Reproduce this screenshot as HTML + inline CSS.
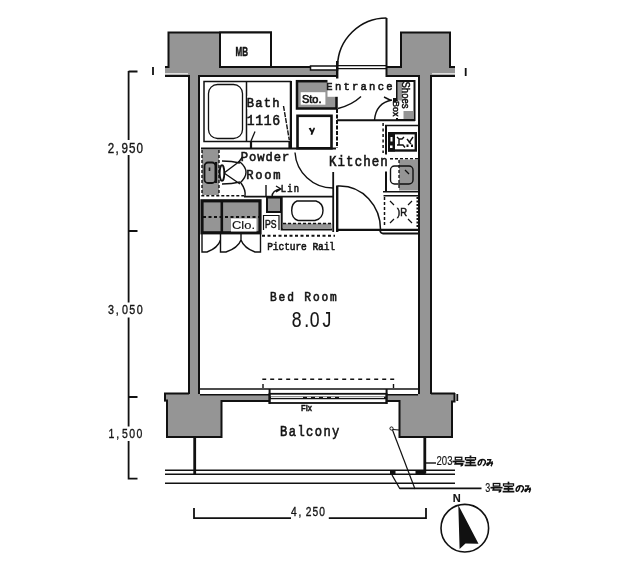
<!DOCTYPE html>
<html><head><meta charset="utf-8">
<style>
html,body{margin:0;padding:0;background:#fff;}
svg{display:block;will-change:transform;}
text{font-family:"Liberation Mono",monospace;fill:#141414;stroke:#141414;stroke-width:0.6;}
.s{stroke-width:0.15;}
.s{font-family:"Liberation Sans",sans-serif;}
</style></head><body>
<svg width="640" height="569" viewBox="0 0 640 569">
<rect x="0" y="0" width="640" height="569" fill="#fff"/>
<g fill="#959595" stroke="none">
  <!-- top-left block -->
  <rect x="168" y="32" width="104" height="44"/>
  <!-- top-right block -->
  <rect x="400" y="32" width="50" height="44"/>
  <!-- top band -->
  <rect x="165" y="67" width="173" height="8.5"/>
  <rect x="386" y="67" width="69" height="8.5"/>
  <!-- columns -->
  <rect x="188" y="75" width="12" height="320"/>
  <rect x="419" y="75" width="12" height="320"/>
  <!-- bottom band -->
  <rect x="164" y="394" width="291" height="7.5"/>
  <!-- bottom blocks -->
  <rect x="166" y="400" width="55" height="37"/>
  <rect x="399" y="400" width="53" height="37"/>
</g>
<g stroke="#111" fill="none" stroke-width="2">
  <!-- top-left block outline -->
  <path d="M165,67 H168.5 V32.5 H272"/>
  <rect x="220" y="32.5" width="51" height="34.5" fill="#fff"/>
  <path d="M272,67 H337"/>
  <!-- top-right block -->
  <path d="M386,67 H401 V32.5 H450 V67 H455"/>
  <!-- band bottom lines -->
  <path d="M165,76 H189 V394 M199,394 V76 H337"/>
  <path d="M386,76 H419 V394 M431,394 V76 H455"/>
  <!-- bottom band/ blocks -->
  <path d="M164,393.5 H189 M431,393.5 H455"/>
  <path d="M165,393 V400.5 H167 V437 H221.5 V401 H269"/>
  <path d="M387,401 H399.5 V437 H452 V401.5 H454.5 V393"/>
</g>
<!-- white gaps outside -->
<g stroke="#fff" stroke-width="1">
  <path d="M165,73.8 H188 M432,73.8 H455"/>
</g>
<!-- MB -->
<text x="235.5" y="55.5" font-size="12" font-weight="bold" textLength="12.5" lengthAdjust="spacingAndGlyphs" class="s" style="stroke-width:0.5">MB</text>

<!-- entrance threshold -->
<g stroke="#111" fill="none">
  <path d="M310.5,66 H337.5 V70 H310.5 Z" fill="#fff" stroke-width="1.5"/>
  <path d="M338,65.6 H386 M338,68.6 H386" stroke-width="1.3"/>
  <path d="M337.2,61 V78.5" stroke-width="2.4"/>
  <path d="M386.5,18 V77" stroke-width="2"/>
  <path d="M337.5,66 A49,49 0 0 1 386.5,18" stroke-width="1.6"/>
</g>

<!-- Bath unit -->
<g stroke="#111" fill="none" stroke-width="1.5">
  <rect x="204" y="81.5" width="86.5" height="60"/>
  <path d="M246.5,81.5 V141.5"/>
  <rect x="208.5" y="84.5" width="34" height="54" rx="9" ry="9" stroke-width="1.3"/>
  <path d="M291,81 V148.5" stroke-width="2"/>
  <path d="M201,148.5 H336" stroke-width="2.2"/>
  <path d="M251,141.5 V148.5 M289.5,141.5 V148.5" stroke-width="2.2"/>
  <path d="M283.5,106 L289.3,140" stroke-width="1.4" stroke-dasharray="5,1.2"/>
  <path d="M255,131.5 L251,141" stroke-width="1.3"/>
</g>
<rect x="247.3" y="96" width="34" height="13" fill="#fff"/>
<text transform="translate(250.30,107.40) scale(0.900,1)" x="-4.05 5.43 14.91 24.39" y="0" font-size="13.51">Bath</text>
<text transform="translate(250.70,124.90) scale(0.900,1)" x="-4.37 5.07 14.52 23.96" y="0" font-size="14.57">1116</text>

<!-- Sto box -->
<rect x="297" y="81.2" width="39.5" height="27.3" fill="#959595" stroke="#111" stroke-width="2.5"/>
<rect x="300.7" y="92.2" width="24.7" height="12.5" fill="#fff"/>
<text x="302" y="102.6" font-size="10" textLength="19.5" lengthAdjust="spacingAndGlyphs" class="s" style="stroke-width:0.6">Sto.</text>

<!-- Toilet -->
<rect x="297.5" y="115.8" width="34" height="32.5" fill="#fff" stroke="#111" stroke-width="2.6"/>
<path d="M308.6,128.2 L310.8,127.8 L312,130.5 L314,127.3 L315,128.6 L312.2,135 L310.6,134.6 L311.2,132.5 Z" fill="#111"/>
<path d="M337,109 V148" stroke="#111" stroke-width="2" stroke-dasharray="4,1.5"/>

<!-- Entrance -->
<rect x="327.5" y="79" width="67" height="17.8" fill="#fff"/>
<text transform="translate(329.50,90.10) scale(0.900,1)" x="-3.51 5.99 15.49 24.99 34.49 43.99 53.49 62.99" y="0" font-size="11.68">Entrance</text>
<path d="M338,108.5 Q352,105 361,96.5" stroke="#111" stroke-width="1.4" fill="none"/>
<path d="M374.5,120 Q376,103 392,100 M384,97 L391,100.5" stroke="#111" stroke-width="1.4" fill="none"/>
<path d="M337,120.2 H415" stroke="#111" stroke-width="2"/>

<!-- Shoes box -->
<rect x="397" y="81" width="17.5" height="39" fill="#fff" stroke="#111" stroke-width="2"/>
<rect x="397.5" y="82" width="5" height="18.5" fill="#959595"/>
<rect x="403.5" y="111" width="10" height="8" fill="#959595"/>
<rect x="391.5" y="101" width="7" height="17" fill="#fff"/>
<text transform="translate(402.3,81.5) rotate(90)" font-size="10.5" textLength="27" lengthAdjust="spacingAndGlyphs" class="s" style="stroke-width:0.5" x="0" y="0">Shoes</text>
<text transform="translate(392.6,101) rotate(90)" font-size="9" textLength="15.5" lengthAdjust="spacingAndGlyphs" class="s" style="stroke-width:0.5" x="0" y="0">Box</text>
<rect x="393" y="98" width="3" height="4" fill="#111"/>
<!-- Kitchen counter -->
<g stroke="#111" fill="none">
  <path d="M385,125.5 H418" stroke-width="1.6"/>
  <path d="M386,125 V192" stroke-width="2"/>
  <path d="M383.1,123 V153" stroke-width="1.5" stroke-dasharray="3,2.5"/>
  <rect x="389.2" y="133.2" width="26.6" height="17.3" stroke-width="2.4" fill="#fff"/>
  <path d="M390,158.7 H418" stroke-width="1.4" stroke-dasharray="3,2"/>
</g>
<rect x="399" y="159.5" width="19" height="31" fill="#959595"/>
<g stroke="#111" fill="none">
  <rect x="390.5" y="166" width="22.5" height="18" rx="4" stroke-width="1.4"/>
  <path d="M399,160 V190" stroke-width="1.3" stroke-dasharray="3,2"/>
  <path d="M405,170 L409,174" stroke-width="1.2"/>
  <path d="M383,191.8 H418 M383.5,195.8 H418" stroke-width="1.6"/>
  <path d="M384.5,197 V227" stroke-width="1.5" stroke-dasharray="3,2"/>
  <path d="M417.5,197 V228" stroke-width="2" stroke-dasharray="2,1.5"/>
  <path d="M390,201 L394,205 M412,201 L408,205 M390,223 L394,219 M412,223 L408,219" stroke-width="1.2"/>
  <path d="M336,229.9 H418" stroke-width="2.2"/>
  <path d="M380,231 Q381,233.5 383,233.5 H418" stroke-width="1.8"/>
</g>
<text x="397" y="216" font-size="10" textLength="10" lengthAdjust="spacingAndGlyphs" class="s" style="stroke-width:0.5">)R</text>
<!-- IH symbols -->
<rect x="388" y="132.5" width="7" height="19" fill="#111"/>
<rect x="390.5" y="137" width="2" height="4.5" fill="#fff"/>
<rect x="390" y="145.5" width="2.5" height="2.5" fill="#fff"/>
<g stroke="#111" fill="none" stroke-width="1.4">
  <path d="M397,137 L399,139 H402 L404,137 M399,139 V145 M397,145 H403 L405,147.5"/>
  <path d="M407,139 L411,144 M413,137 L409,143"/>
</g>
<rect x="406.5" y="144.5" width="2" height="2.5" fill="#111"/>
<rect x="411" y="144.5" width="2" height="2.5" fill="#111"/>
<!-- Kitchen text -->
<rect x="329" y="154.5" width="59" height="17" fill="#fff"/>
<text transform="translate(332.75,166.00) scale(0.900,1)" x="-4.14 5.35 14.84 24.33 33.82 43.31 52.80" y="0" font-size="13.81">Kitchen</text>

<!-- doors & walls mid -->
<g stroke="#111" fill="none">
  <path d="M295,152.5 A38,38 0 0 0 333,188" stroke-width="1.4"/>
  <path d="M333.2,172 V232" stroke-width="1.8"/>
  <path d="M337.2,185.5 V232" stroke-width="2.4"/>
  <path d="M337.5,186 H340 A40.5,43.5 0 0 1 380.5,229.5" stroke-width="1.5"/>
</g>

<!-- Powder room -->
<rect x="202" y="150" width="17" height="45" fill="#959595"/>
<g stroke="#111" fill="none">
  <path d="M202,150 V195.7 H244 M219,150 V195" stroke-width="1.4" stroke-dasharray="3,2"/>
  <path d="M244,196.6 H333" stroke-width="1.6"/>
  <rect x="204.5" y="162.5" width="11" height="20.5" rx="3.5" stroke-width="1.8"/>
  <path d="M209.5,167.5 V171" stroke-width="1.6"/>
  <path d="M216,162 V183" stroke-width="2.2"/>
  <ellipse cx="222" cy="173" rx="2.3" ry="7.8" stroke-width="1.8"/>
  <path d="M222,161 Q232,161 240,163 M222,184 Q232,184 240,182 M224,173 L240,161 M224,173 L240,184" stroke-width="1.4"/>
  <path d="M240,162 Q252,172 240,183" stroke-width="1.4"/>
  <path d="M238,163 L242.5,157" stroke-width="1.4"/>
  <path d="M241,183 Q246,190 245,196" stroke-width="1.4"/>
</g>
<text transform="translate(244.50,160.70) scale(0.900,1)" x="-4.05 5.08 14.22 23.35 32.48 41.62" y="0" font-size="13.51">Powder</text>
<text transform="translate(249.80,178.80) scale(0.900,1)" x="-4.05 5.95 15.95 25.95" y="0" font-size="13.51">Room</text>

<!-- Closet -->

<rect x="202" y="201" width="57.5" height="31" fill="#959595"/>
<g stroke="#111" fill="none">
  <rect x="202" y="200.8" width="58" height="32" stroke-width="3.2"/>
  <path d="M221.8,201 V233" stroke-width="2.6"/>
  <path d="M203,217 H259" stroke-width="2" stroke-dasharray="3,2.5"/>
</g>
<rect x="231" y="218.5" width="25.5" height="13" fill="#fff"/>
<text x="232" y="229" font-size="11" textLength="23" lengthAdjust="spacingAndGlyphs" class="s">Clo.</text>
<g stroke="#111" fill="none" stroke-width="1.4">
  <path d="M202,234 V252 H207 Q218,248 220.5,240"/>
  <path d="M220.5,234 V252 H226 Q238,248 241,240"/>
  <path d="M241,234 V240 Q244,248 255,252 H260.5 V234"/>
</g>

<!-- PS / Lin / laundry -->
<rect x="267" y="197.5" width="14" height="14.5" fill="#959595" stroke="#111" stroke-width="2"/>
<path d="M266,185 V197" stroke="#111" stroke-width="1.4"/>
<path d="M263.5,230 V215.5 H279 V230" stroke="#111" stroke-width="1.2" fill="none"/>
<text x="265" y="227.5" font-size="10.5" textLength="11.5" lengthAdjust="spacingAndGlyphs" class="s" style="stroke-width:0.5">PS</text>
<path d="M276,186 L281,189 L276,192 M281,189 Q272,190 272,197" stroke="#111" stroke-width="1.3" fill="none"/>
<text transform="translate(283.40,192.30) scale(0.850,1)" x="-3.10 4.61 12.32" y="0" font-size="10.32">Lin</text>

<g stroke="#111" fill="none">
  
  <path d="M281.7,197 V229.5 H332" stroke-width="2"/>
</g>
<rect x="283" y="223.5" width="48.5" height="5.5" fill="#959595"/>
<path d="M283,223.5 H331" stroke="#111" stroke-width="1.3" stroke-dasharray="3,2"/>
<path d="M297,201 H316 Q323,203 323,210.5 Q323,218.5 315,220.5 H298 Q291.7,218.5 291.7,210.5 Q291.7,203 297,201 Z" stroke="#111" stroke-width="1.4" fill="none"/>
<path d="M262,235.8 H335" stroke="#111" stroke-width="2" stroke-dasharray="3,2.5"/>
<text transform="translate(270.10,250.10) scale(0.820,1)" x="-3.51 3.38 10.26 17.15 24.03 30.92 37.80 44.69 51.57 58.46 65.34 72.23" y="0" font-size="11.68">Picture Rail</text>

<!-- Bedroom bottom & window -->
<g stroke="#111" fill="none">
  <path d="M200,389 H418" stroke-width="1.5"/>
  <path d="M200,394.7 H269 M387,394.7 H418" stroke-width="1.6"/>
  <rect x="269.5" y="393.8" width="117" height="9.2" fill="#fff" stroke-width="1.8"/>
  <path d="M269.6,389 V404 M386.6,389 V404" stroke-width="2"/>
  <path d="M270,397.8 H386" stroke-width="2.8"/>
  <path d="M263,388 V379.2 H393.5 V388" stroke-width="1.4" stroke-dasharray="4,4"/>
</g>
<path d="M271,397.4 H299 M343,397.4 H384" stroke="#fff" stroke-width="1"/>
<path d="M299,397.4 H343" stroke="#fff" stroke-width="1" stroke-dasharray="4,4"/>
<text x="301" y="410.6" font-size="9.5" textLength="11" lengthAdjust="spacingAndGlyphs" class="s" font-weight="bold" style="stroke-width:0.4">FIx</text>

<text transform="translate(273.40,300.80) scale(0.900,1)" x="-3.73 5.79 15.31 24.84 34.36 43.89 53.41 62.93" y="0" font-size="12.44">Bed Room</text>
<g transform="translate(291,326.9) scale(0.8,1)"><text class="s" x="1 16.5 23.5 39.5" y="0" font-size="22">8.0J</text></g>
<text transform="translate(283.75,436.40) scale(0.850,1)" x="-4.28 5.91 16.09 26.28 36.47 46.65 56.84" y="0" font-size="14.26">Balcony</text>

<!-- balcony lines -->
<g stroke="#111" fill="none">
  <path d="M194.7,437 V474" stroke-width="2.8"/>
  <path d="M424.8,437 V473.5" stroke-width="2.8"/>
  <path d="M165,470.2 H455 M165,474.3 H455 M165,483.2 H455" stroke-width="1.6"/>
  <path d="M400,488.4 H481.5" stroke-width="1.6"/>
  <path d="M426,463 H436" stroke-width="1.4"/>
  <path d="M392.5,430 L415,489" stroke-width="1.2"/>
  <circle cx="391.5" cy="428.5" r="1.6" stroke-width="1"/>
  <path d="M392,475 L400,489" stroke-width="1.3"/>
  <path d="M393,429.5 L399,430" stroke-width="1.2"/>
</g>
<rect x="390" y="470.5" width="5.5" height="3.5" fill="#111"/>
<rect x="415.5" y="470.5" width="10" height="3.5" fill="#111"/>

<!-- dimension lines -->
<g stroke="#111" fill="none" stroke-width="1.8">
  <path d="M128.6,71.5 H137.5 M128.6,71 V140 M128.6,155 V302.5 M128.6,317.5 V426.5 M128.6,441 V478.6 H137.5 M128.6,231 H137.5 M128.6,397 H137.5"/>
  <path d="M153,67 V75 M465.7,68 V76 M457.3,394 V401"/>
  <path d="M194,508 V518.2 H291 M328.8,518.2 H426 V508"/>
</g>
<g>
<text class="s" transform="translate(110.95,152.50) scale(0.80,1)" x="-4.05 5.72 13.20 22.51 31.82" y="0" font-size="14.57" style="stroke-width:0.35">2,950</text>
<text class="s" transform="translate(110.95,314.10) scale(0.80,1)" x="-3.73 5.88 13.70 23.02 32.33" y="0" font-size="13.43" style="stroke-width:0.35">3,050</text>
<text class="s" transform="translate(111.50,438.00) scale(0.80,1)" x="-3.65 5.92 13.22 22.22 31.22" y="0" font-size="13.14" style="stroke-width:0.35">1,500</text>
<text class="s" transform="translate(293.75,516.25) scale(0.80,1)" x="-3.55 5.97 15.01 23.38 31.76" y="0" font-size="12.79" style="stroke-width:0.35">4,250</text>
</g>
<!-- compass -->
<circle cx="464.8" cy="528.2" r="23.8" stroke="#111" stroke-width="1.6" fill="none"/>
<path d="M458.3,505 L478.5,543.8 L465.5,543.5 L459.6,549 Z" fill="#111"/>
<text x="452.8" y="502" font-size="10" textLength="8" lengthAdjust="spacingAndGlyphs" class="s" font-weight="bold">N</text>

<!-- Japanese labels drawn as shapes -->
<defs>
<g id="jpg" fill="none" stroke="#111" stroke-width="1.7" stroke-linecap="square">
  <rect x="2.3" y="0.8" width="6.5" height="2.6" stroke-width="1.3"/>
  <path d="M0.3,5 H10.7"/>
  <path d="M2.8,5.4 L2.2,7.3 H9.6 Q9.6,9.2 7.6,9.3" stroke-linecap="butt"/>
  <path d="M17.5,-0.2 V1" />
  <path d="M12.5,3 V1.2 H22.5 V3" stroke-width="1.3"/>
  <path d="M14,3.6 H21 M13.5,6.1 H21.5 M12.5,8.9 H22.5 M17.5,3.6 V8.9"/>
  <path d="M29,3.2 Q28,8.5 26.2,8.6 Q24.6,8.4 25.4,5.6 Q26.8,2.8 30,3 Q33,3.6 32.3,6.6 Q31.6,8.8 29.8,9.2" stroke-width="1.5" stroke-linecap="butt"/>
  <path d="M34,3.2 H37.6 Q36.4,7.6 35,8.6 Q33.6,9 34,7.2 Q35.6,5.4 40,7.2 M39.2,4.8 Q39.4,8 38,9.8" stroke-width="1.5" stroke-linecap="butt"/>
</g>
</defs>
<text x="436.5" y="465.3" font-size="12" textLength="16" lengthAdjust="spacingAndGlyphs" class="s">203</text>
<use href="#jpg" transform="translate(453,456.5)"/>
<text x="485.3" y="491.5" font-size="12.5" textLength="5" lengthAdjust="spacingAndGlyphs" class="s">3</text>
<use href="#jpg" transform="translate(491,482.7)"/>
</svg>
</body></html>
